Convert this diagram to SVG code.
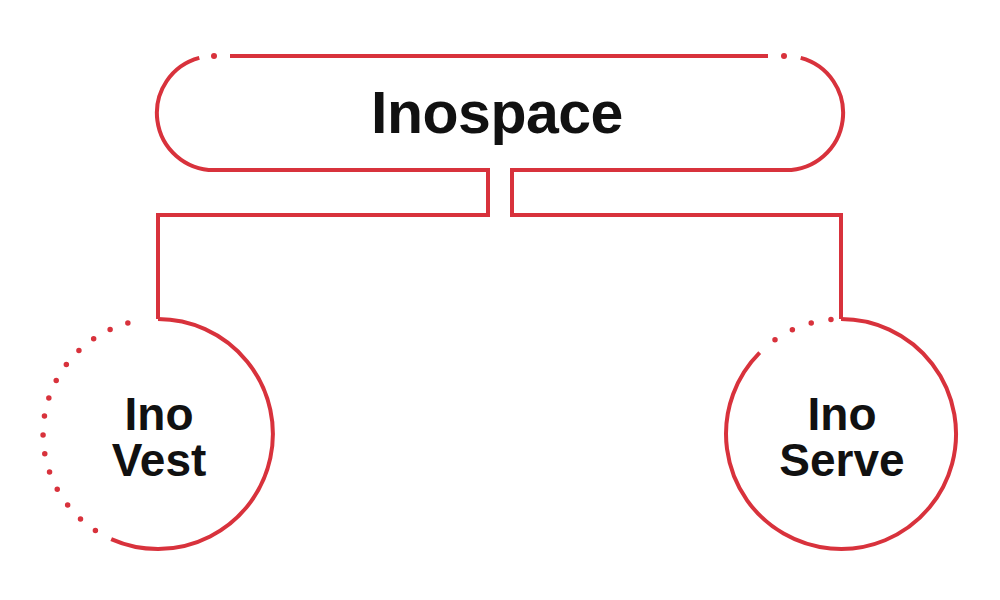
<svg xmlns="http://www.w3.org/2000/svg" width="1000" height="600" viewBox="0 0 1000 600">
<style>
.ln{fill:none;stroke:#d8323c;stroke-width:4;stroke-linecap:butt;stroke-linejoin:miter}
.dots{fill:none;stroke:#d8323c;stroke-width:5.5;stroke-linecap:round}
.lbl{font-family:"Liberation Sans",Arial,sans-serif;font-weight:bold;fill:#111;text-anchor:middle}
</style>
<rect width="1000" height="600" fill="#fff"/>
<g id="connectors">
<path class="ln" d="M199.3,57.9 A57,57 0 0 0 214,170 L488,170 L488,215 L158,215 L158,319"/>
<path class="ln" d="M800.7,57.9 A57,57 0 0 1 786,170 L512,170 L512,215 L841,215 L841,319"/>
</g>
<g id="inospace">
<path class="ln" d="M230,56 L768,56"/>
<circle cx="214" cy="56" r="3" fill="#d8323c"/>
<circle cx="784" cy="56" r="3" fill="#d8323c"/>
<text class="lbl" x="497" y="133" font-size="59" letter-spacing="-0.5">Inospace</text>
</g>
<g id="inovest">
<path class="ln" d="M158,319 A115,115 0 1 1 111.2,539.1"/>
<path class="dots" stroke-dasharray="0 18.87" d="M95.4,530.4 A115,115 0 0 1 146,319.6"/>
<text class="lbl" font-size="46"><tspan x="159" y="430">Ino</tspan><tspan x="159" y="476">Vest</tspan></text>
</g>
<g id="inoserve">
<path class="ln" d="M841,319 A115,115 0 1 1 759.7,352.7"/>
<path class="dots" stroke-dasharray="0 20.07" d="M775,339.8 A115,115 0 0 1 831,319.4"/>
<text class="lbl" font-size="46"><tspan x="842" y="430">Ino</tspan><tspan x="842" y="476">Serve</tspan></text>
</g>
</svg>
